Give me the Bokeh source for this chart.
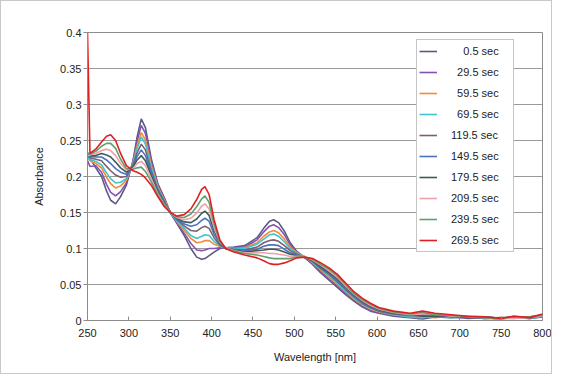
from bokeh.plotting import figure
from bokeh.embed import file_html
from bokeh.resources import INLINE
from bokeh.models import CustomJSTickFormatter, SingleIntervalTicker, Legend, LegendItem

wavelength = [250, 253, 260, 267, 273, 278, 284, 290, 297, 305,
              310, 315, 320, 327, 335, 343, 350, 358, 367, 375,
              382, 388, 392, 397, 403, 410, 417, 427, 440, 455,
              463, 470, 475, 481, 488, 495, 503, 512, 522, 532,
              542, 552, 562, 572, 582, 592, 602, 620, 640, 655,
              670, 690, 710, 730, 750, 765, 785, 800]

labels = ["\u20070.5 sec".replace("\u2007", "\u2007\u2007", 1), "\u200729.5 sec", "\u200759.5 sec", "\u200769.5 sec", "119.5 sec",
          "149.5 sec", "179.5 sec", "209.5 sec", "239.5 sec", "269.5 sec"]

colors = ["#5a5a86", "#8452b0", "#f08c3c", "#40c4cc", "#7a6070",
          "#4a72c0", "#3f5a5a", "#f0a0a8", "#5fa070", "#e02020"]

s_0_5 = [0.230, 0.226, 0.212, 0.200, 0.180, 0.167, 0.162, 0.172, 0.188, 0.222,
         0.255, 0.280, 0.268, 0.225, 0.190, 0.170, 0.150, 0.135, 0.118, 0.100,
         0.088, 0.085, 0.086, 0.090, 0.095, 0.100, 0.101, 0.102, 0.104, 0.115,
         0.128, 0.138, 0.140, 0.136, 0.124, 0.108, 0.096, 0.088, 0.078, 0.066,
         0.056, 0.046, 0.036, 0.027, 0.019, 0.013, 0.010, 0.006, 0.004, 0.002,
         0.005, 0.004, 0.005, 0.003, 0.003, 0.004, 0.003, 0.005]
s_29_5 = [0.222, 0.214, 0.215, 0.206, 0.189, 0.178, 0.173, 0.179, 0.191, 0.220,
          0.249, 0.271, 0.260, 0.221, 0.188, 0.169, 0.150, 0.136, 0.121, 0.107,
          0.098, 0.097, 0.098, 0.100, 0.100, 0.101, 0.101, 0.101, 0.102, 0.112,
          0.123, 0.131, 0.133, 0.129, 0.119, 0.105, 0.095, 0.088, 0.079, 0.068,
          0.058, 0.048, 0.038, 0.029, 0.020, 0.014, 0.011, 0.007, 0.005, 0.004,
          0.006, 0.005, 0.003, 0.004, 0.002, 0.005, 0.004, 0.006]
s_59_5 = [0.228, 0.222, 0.218, 0.212, 0.199, 0.190, 0.184, 0.187, 0.195, 0.218,
          0.243, 0.261, 0.251, 0.216, 0.186, 0.167, 0.151, 0.138, 0.125, 0.114,
          0.108, 0.109, 0.111, 0.111, 0.106, 0.103, 0.100, 0.100, 0.101, 0.108,
          0.117, 0.123, 0.125, 0.122, 0.113, 0.102, 0.094, 0.089, 0.080, 0.070,
          0.060, 0.050, 0.040, 0.030, 0.022, 0.016, 0.012, 0.008, 0.006, 0.006,
          0.004, 0.006, 0.005, 0.003, 0.004, 0.003, 0.005, 0.007]
s_69_5 = [0.225, 0.224, 0.221, 0.216, 0.205, 0.197, 0.191, 0.192, 0.197, 0.217,
          0.239, 0.255, 0.245, 0.213, 0.184, 0.166, 0.150, 0.138, 0.128, 0.118,
          0.114, 0.117, 0.119, 0.118, 0.110, 0.104, 0.101, 0.100, 0.100, 0.106,
          0.113, 0.119, 0.120, 0.117, 0.109, 0.100, 0.093, 0.089, 0.081, 0.071,
          0.062, 0.052, 0.041, 0.031, 0.023, 0.017, 0.013, 0.008, 0.005, 0.004,
          0.007, 0.004, 0.006, 0.005, 0.003, 0.004, 0.003, 0.006]
s_119_5 = [0.230, 0.226, 0.224, 0.222, 0.214, 0.208, 0.202, 0.199, 0.200, 0.216,
           0.233, 0.245, 0.237, 0.208, 0.182, 0.165, 0.150, 0.140, 0.131, 0.125,
           0.124, 0.129, 0.131, 0.128, 0.115, 0.105, 0.100, 0.099, 0.098, 0.102,
           0.108, 0.111, 0.112, 0.110, 0.104, 0.097, 0.092, 0.088, 0.082, 0.072,
           0.064, 0.054, 0.043, 0.033, 0.024, 0.018, 0.013, 0.009, 0.007, 0.007,
           0.005, 0.006, 0.004, 0.004, 0.002, 0.006, 0.004, 0.008]
s_149_5 = [0.227, 0.228, 0.227, 0.227, 0.223, 0.218, 0.211, 0.206, 0.203, 0.214,
           0.228, 0.237, 0.229, 0.204, 0.180, 0.163, 0.151, 0.141, 0.134, 0.131,
           0.133, 0.139, 0.142, 0.138, 0.120, 0.107, 0.101, 0.098, 0.097, 0.099,
           0.103, 0.105, 0.105, 0.104, 0.099, 0.094, 0.091, 0.089, 0.082, 0.074,
           0.066, 0.056, 0.045, 0.034, 0.026, 0.019, 0.014, 0.010, 0.007, 0.008,
           0.008, 0.005, 0.005, 0.003, 0.004, 0.004, 0.005, 0.007]
s_179_5 = [0.232, 0.229, 0.229, 0.232, 0.230, 0.227, 0.220, 0.212, 0.206, 0.213,
           0.223, 0.229, 0.222, 0.201, 0.178, 0.162, 0.150, 0.142, 0.137, 0.136,
           0.141, 0.149, 0.152, 0.146, 0.125, 0.108, 0.100, 0.097, 0.095, 0.097,
           0.098, 0.099, 0.099, 0.098, 0.095, 0.092, 0.090, 0.088, 0.083, 0.075,
           0.067, 0.058, 0.047, 0.036, 0.027, 0.020, 0.015, 0.010, 0.008, 0.006,
           0.006, 0.007, 0.004, 0.005, 0.003, 0.005, 0.003, 0.008]
s_209_5 = [0.229, 0.230, 0.232, 0.236, 0.238, 0.236, 0.229, 0.218, 0.209, 0.211,
           0.218, 0.221, 0.215, 0.197, 0.176, 0.161, 0.150, 0.143, 0.140, 0.142,
           0.149, 0.159, 0.162, 0.155, 0.129, 0.109, 0.101, 0.097, 0.094, 0.094,
           0.094, 0.093, 0.093, 0.092, 0.091, 0.089, 0.089, 0.089, 0.084, 0.077,
           0.069, 0.060, 0.048, 0.037, 0.028, 0.021, 0.016, 0.011, 0.008, 0.009,
           0.009, 0.006, 0.006, 0.004, 0.002, 0.003, 0.004, 0.007]
s_239_5 = [0.233, 0.231, 0.235, 0.242, 0.246, 0.246, 0.239, 0.224, 0.211, 0.210,
           0.212, 0.213, 0.207, 0.193, 0.174, 0.160, 0.151, 0.144, 0.143, 0.148,
           0.158, 0.169, 0.173, 0.164, 0.134, 0.110, 0.100, 0.096, 0.093, 0.091,
           0.089, 0.087, 0.086, 0.086, 0.086, 0.086, 0.088, 0.088, 0.085, 0.078,
           0.071, 0.062, 0.050, 0.038, 0.029, 0.023, 0.017, 0.012, 0.009, 0.011,
           0.008, 0.007, 0.005, 0.004, 0.003, 0.005, 0.005, 0.008]
s_269_5 = [0.400, 0.232, 0.238, 0.248, 0.256, 0.258, 0.250, 0.232, 0.215, 0.208,
           0.206, 0.203, 0.198, 0.188, 0.172, 0.158, 0.150, 0.145, 0.147, 0.155,
           0.168, 0.182, 0.186, 0.175, 0.140, 0.112, 0.100, 0.095, 0.091, 0.087,
           0.083, 0.079, 0.078, 0.078, 0.080, 0.083, 0.087, 0.088, 0.086, 0.080,
           0.073, 0.064, 0.052, 0.040, 0.031, 0.024, 0.018, 0.013, 0.010, 0.013,
           0.010, 0.008, 0.006, 0.005, 0.003, 0.006, 0.004, 0.009]

series = [s_0_5, s_29_5, s_59_5, s_69_5, s_119_5, s_149_5, s_179_5, s_209_5, s_239_5, s_269_5]

FONT = "Liberation Sans"

p = figure(width=552, height=374, output_backend="svg", toolbar_location=None,
           x_range=(250, 800), y_range=(0, 0.4),
           min_border_left=86, min_border_right=11, min_border_top=31, min_border_bottom=55)
p.styles = {"border": "1px solid #c8c8c8"}

p.outline_line_color = "#8c8c8c"
p.xgrid.grid_line_color = None
p.ygrid.grid_line_color = "#9a9a9a"
p.ygrid.grid_line_width = 1

p.xaxis.ticker = SingleIntervalTicker(interval=50)
p.yaxis.ticker = SingleIntervalTicker(interval=0.05)
p.yaxis.formatter = CustomJSTickFormatter(code="return String(parseFloat(tick.toFixed(2)));")
p.xaxis.minor_tick_line_color = None
p.yaxis.minor_tick_line_color = None

for ax in (p.xaxis, p.yaxis):
    ax.axis_line_color = "#8c8c8c"
    ax.major_tick_line_color = "#8c8c8c"
    ax.major_label_text_font = FONT
    ax.major_label_text_font_size = "11px"
    ax.major_label_text_color = "#222222"
    ax.axis_label_text_font = FONT
    ax.axis_label_text_font_size = "11px"
    ax.axis_label_text_font_style = "normal"
    ax.axis_label_text_color = "#222222"

p.xaxis.major_tick_in = 4
p.xaxis.major_tick_out = 0
p.yaxis.major_tick_in = 0
p.yaxis.major_tick_out = 4
p.xaxis.axis_label = "Wavelength [nm]"
p.yaxis.axis_label = "Absorbance"
p.xaxis.major_label_standoff = 4
p.xaxis.axis_label_standoff = 11
p.yaxis.major_label_standoff = 2
p.yaxis.axis_label_standoff = 12

items = []
for lab, col, ys in zip(labels, colors, series):
    r = p.line(wavelength, ys, line_color=col, line_width=1.6)
    items.append(LegendItem(label=lab, renderers=[r]))

legend = Legend(items=items, location=(329, 68))
legend.label_text_font = FONT
legend.label_text_font_size = "11px"
legend.label_text_color = "#222222"
legend.glyph_width = 18
legend.glyph_height = 18
legend.label_height = 18
legend.label_width = 60
legend.spacing = 3
legend.padding = 2
legend.margin = 0
legend.label_standoff = 14
legend.border_line_color = "#8c8c8c"
legend.background_fill_alpha = 1.0
p.add_layout(legend, "center")

open("out.html", "w").write(file_html(p, INLINE))
